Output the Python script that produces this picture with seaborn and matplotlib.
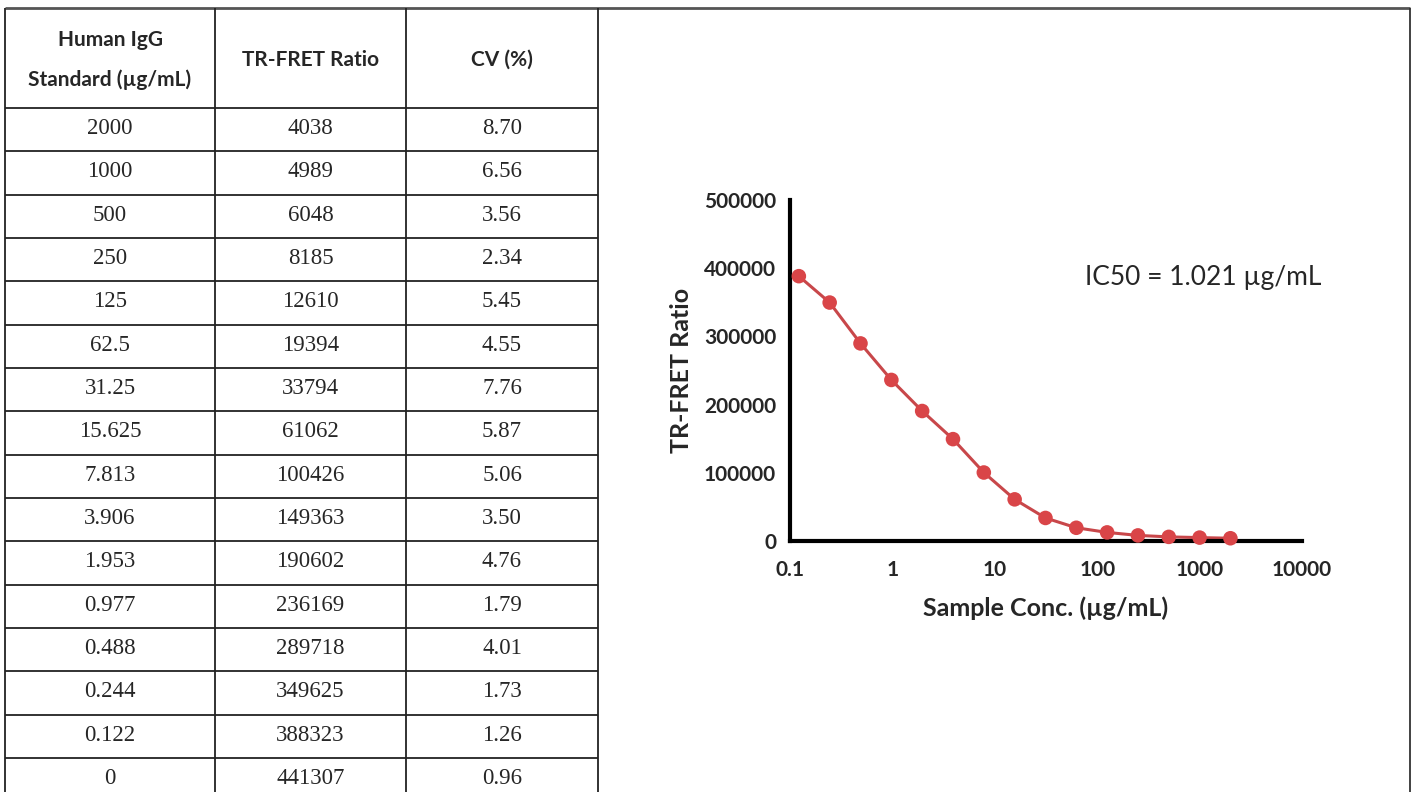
import numpy as np
import matplotlib
matplotlib.use("Agg")
import matplotlib.pyplot as plt
from matplotlib import ticker
import seaborn as sns

# table data (as printed)
std_conc = ["2000", "1000", "500", "250", "125", "62.5", "31.25", "15.625",
            "7.813", "3.906", "1.953", "0.977", "0.488", "0.244", "0.122", "0"]
tr_fret = [4038, 4989, 6048, 8185, 12610, 19394, 33794, 61062,
           100426, 149363, 190602, 236169, 289718, 349625, 388323, 441307]
cv_pct = ["8.70", "6.56", "3.56", "2.34", "5.45", "4.55", "7.76", "5.87",
          "5.06", "3.50", "4.76", "1.79", "4.01", "1.73", "1.26", "0.96"]
headers = ["Human IgG\nStandard (\u00b5g/mL)", "TR-FRET Ratio", "CV (%)"]

# curve data: the non-zero standards
conc = [float(c) for c in std_conc if float(c) > 0]
ratio = [r for c, r in zip(std_conc, tr_fret) if float(c) > 0]

ic50_text = "IC50 = 1.021 \u00b5g/mL"
x_ticks = [0.1, 1, 10, 100, 1000, 10000]
y_ticks = [0, 100000, 200000, 300000, 400000, 500000]

sns.set_style("white")
plt.rcParams["font.family"] = ["Lato", "DejaVu Sans"]

W, H = 1414, 792
fig = plt.figure(figsize=(W / 100, H / 100), dpi=100)

# background axes in pixel coords for the table + frame
bg = fig.add_axes([0, 0, 1, 1])
bg.set_xlim(0, W)
bg.set_ylim(H, 0)
bg.axis("off")

col_x = [5, 215, 406, 598]
top, head_bot, row_h = 8, 108, 43.33
lc = "#222222"
bg.hlines(top, 5, 1410, color="#555555", lw=2)
bg.vlines(col_x, top, H, color=lc, lw=1.3)
bg.vlines(1410, top, H, color="#333333", lw=1.3)
row_lines = [head_bot + row_h * k for k in range(len(std_conc))]
bg.hlines(row_lines, 5, 598, color=lc, lw=1.3)

centers = [(col_x[i] + col_x[i + 1]) / 2 for i in range(3)]
for cx, h in zip(centers, headers):
    bg.text(cx, (top + head_bot) / 2 + 2, h, ha="center", va="center",
            fontsize=15, fontweight="bold", linespacing=2.2,
            family=["Lato", "DejaVu Sans"])
for i, (a, b, c) in enumerate(zip(std_conc, tr_fret, cv_pct)):
    yc = head_bot + row_h * (i + 0.5) - 1
    for cx, t in zip(centers, [a, str(b), c]):
        bg.text(cx, yc, t, ha="center", va="center", fontsize=16.5,
                family=["Liberation Serif", "DejaVu Serif"])

# chart
ax = fig.add_axes([790 / W, 1 - 541 / H, 512 / W, 341 / H])
sns.lineplot(x=conc, y=ratio, ax=ax, color="#c8474a", lw=2.2, zorder=2)
sns.scatterplot(x=conc, y=ratio, ax=ax, color="#d94548", s=110,
                edgecolor="none", zorder=3, clip_on=False)
ax.set_xscale("log")
ax.set_xlim(0.1, 10000)
ax.set_ylim(0, 500000)
ax.set_xticks(x_ticks)
ax.set_yticks(y_ticks)
ax.xaxis.set_minor_locator(ticker.NullLocator())
ax.xaxis.set_major_formatter(ticker.FuncFormatter(lambda v, p: f"{v:g}"))
ax.yaxis.set_major_formatter(ticker.FuncFormatter(lambda v, p: f"{int(v)}"))
for s in ["top", "right"]:
    ax.spines[s].set_visible(False)
for s in ["left", "bottom"]:
    ax.spines[s].set_linewidth(3)
    ax.spines[s].set_color("black")
ax.tick_params(axis="y", direction="out", length=7, width=3, color="black",
               labelsize=15, pad=3)
ax.tick_params(axis="x", direction="inout", length=13, width=3, color="black",
               labelsize=15, pad=7)
for lab in ax.get_xticklabels() + ax.get_yticklabels():
    lab.set_fontweight("bold")
ax.set_xlabel("Sample Conc. (\u00b5g/mL)", fontsize=18, fontweight="bold", labelpad=12)
ax.set_ylabel("TR-FRET Ratio", fontsize=18, fontweight="bold", labelpad=8)
ax.patch.set_alpha(0)

bg.text(1085, 278, ic50_text, ha="left", va="center", fontsize=19,
        family=["Lato", "DejaVu Sans"])

fig.savefig("out.png", dpi=100)
